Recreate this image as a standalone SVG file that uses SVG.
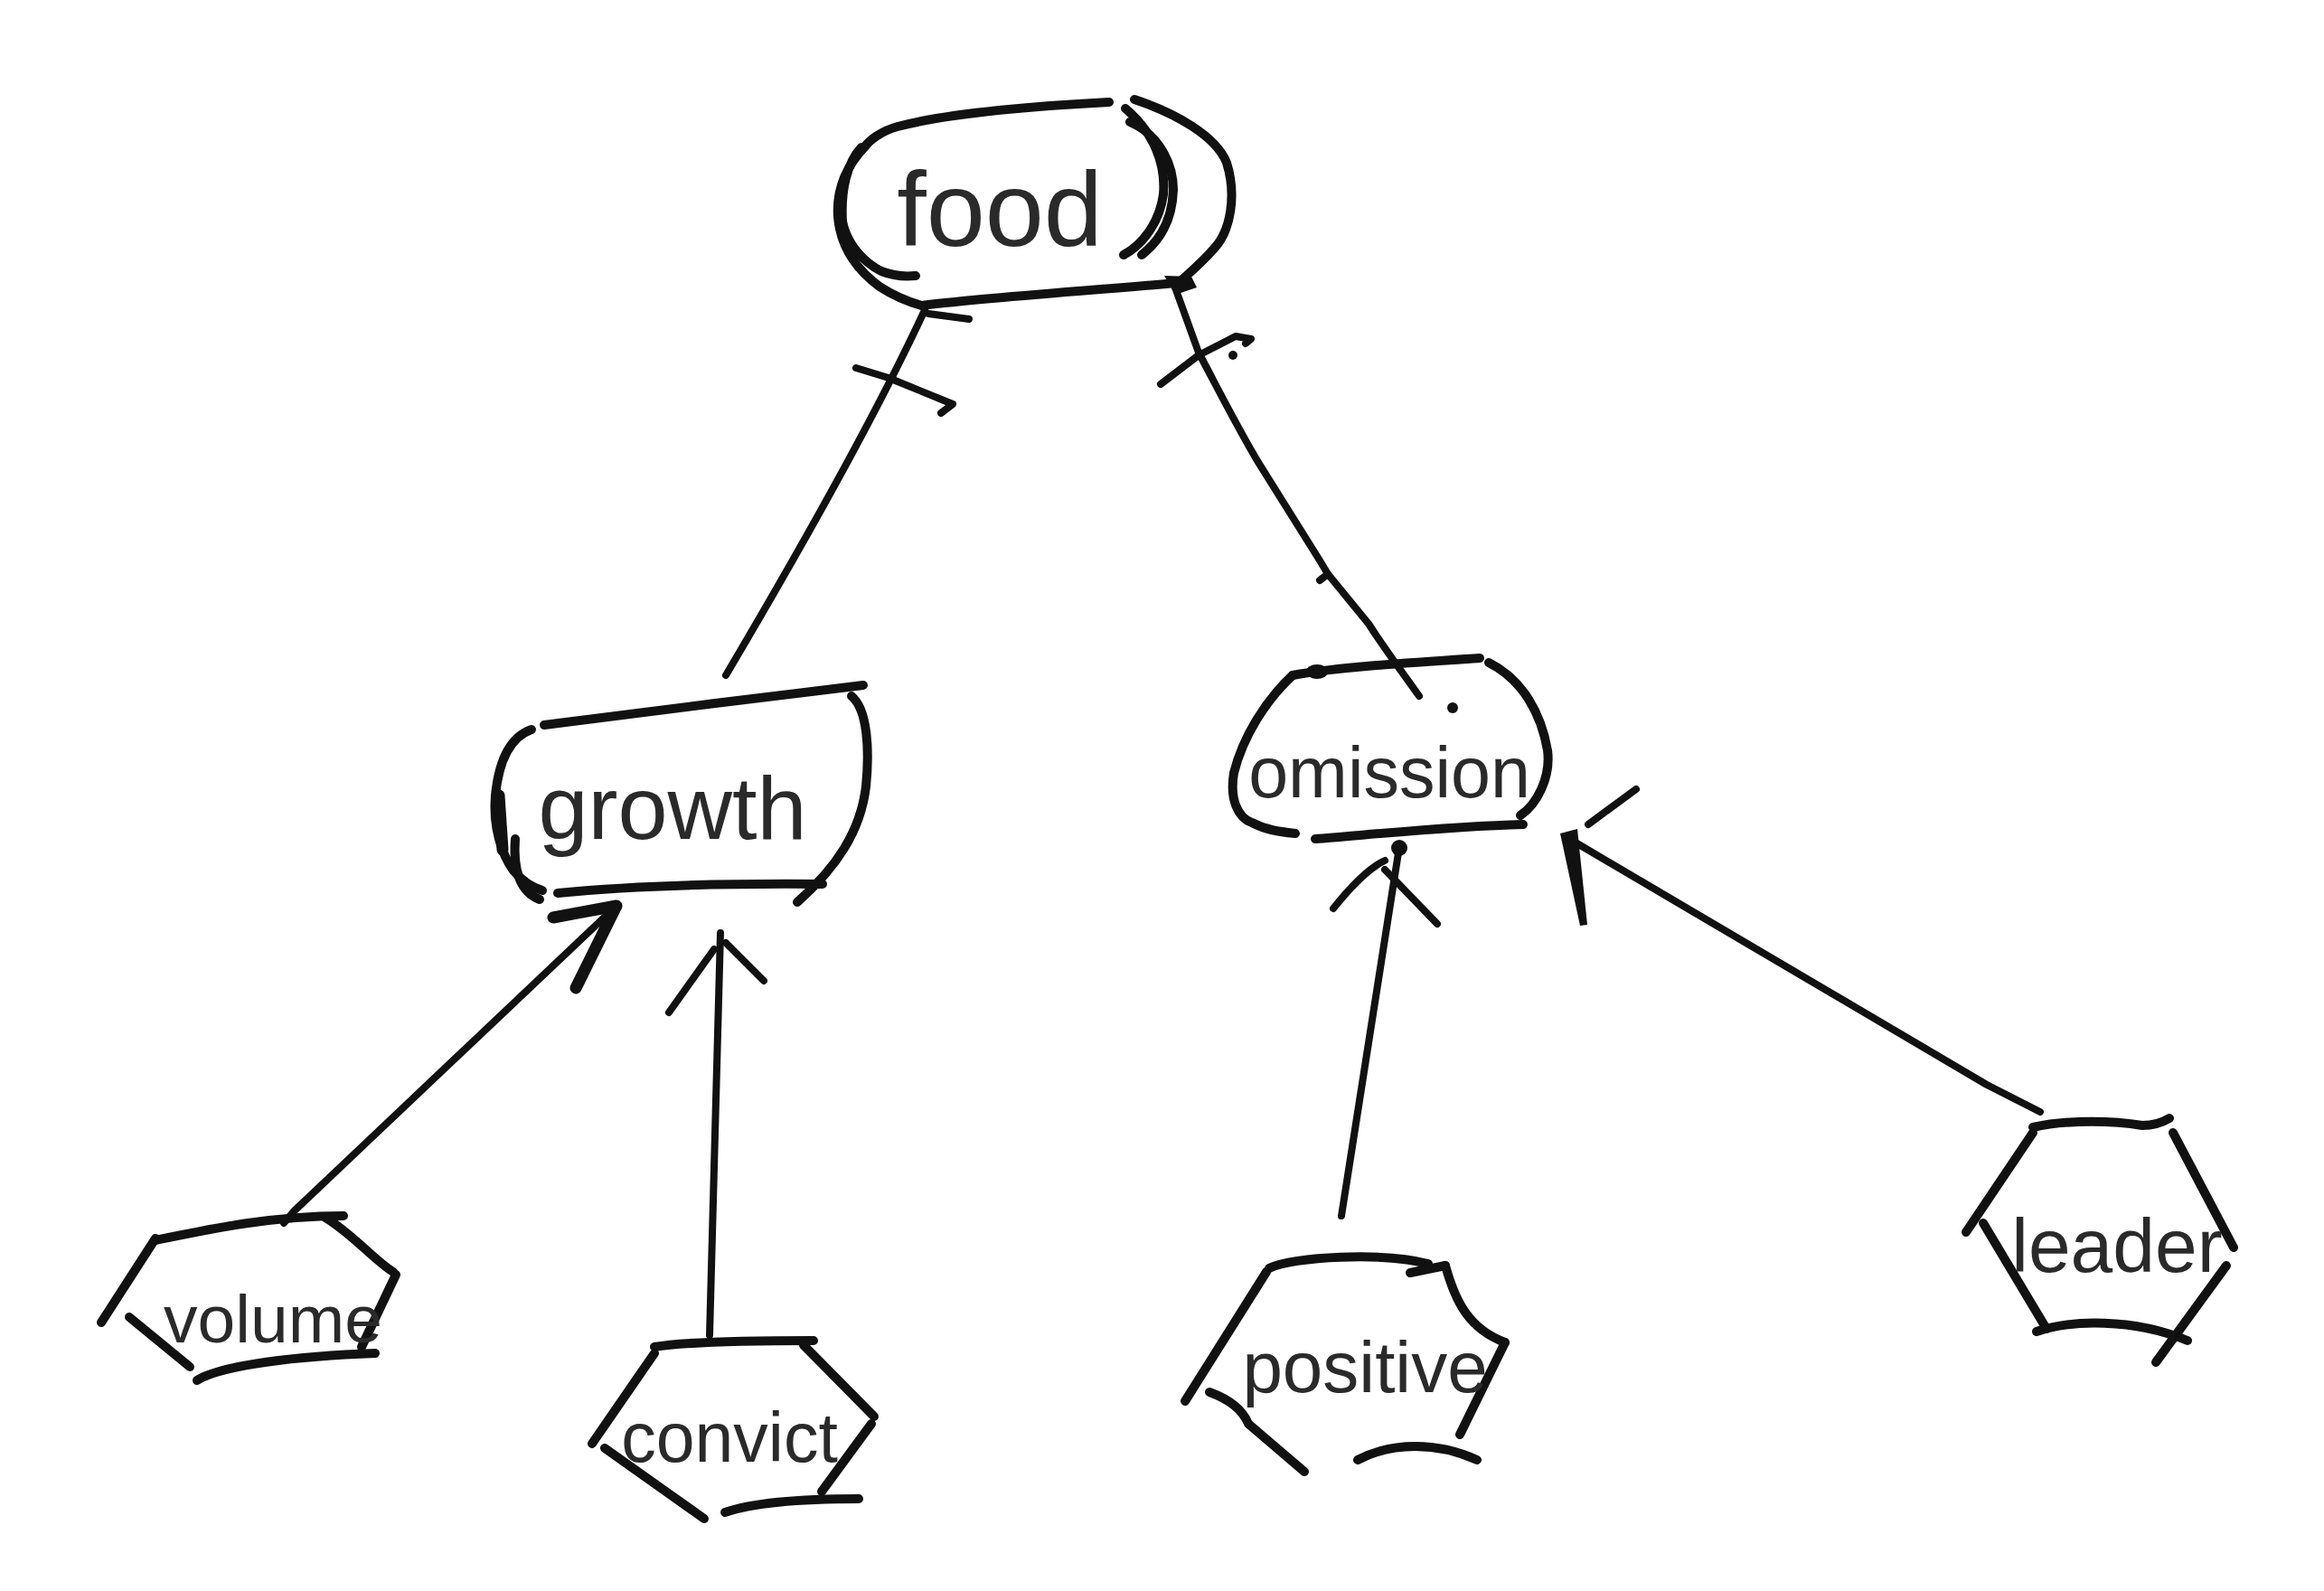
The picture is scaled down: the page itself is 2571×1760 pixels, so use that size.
<svg xmlns="http://www.w3.org/2000/svg" width="2571" height="1760" viewBox="0 0 2571 1760">
<style>
.s{fill:none;stroke:#111;stroke-width:10;stroke-linecap:round;stroke-linejoin:round}
.e{fill:none;stroke:#111;stroke-width:8;stroke-linecap:round;stroke-linejoin:round}
.k{fill:none;stroke:#111;stroke-width:13;stroke-linecap:round;stroke-linejoin:round}
.b{fill:#111}
.t{font-family:"Liberation Sans",Arial,sans-serif;fill:#2a2a2a;text-anchor:middle}
</style>
<rect width="2571" height="1760" fill="#fff"/>
<g id="connectors">
  <g id="food-growth">
    <path class="e" d="M1023,343 Q955,490 803,747"/>
    <path class="e" d="M947,407 L983,418 L1054,447 L1041,457"/>
    <path class="e" d="M1027,347 L1072,353"/>
  </g>
  <g id="food-omission">
    <path class="e" d="M1300,318 L1326,390 C1350,435 1370,475 1393,513 L1460,620 L1469,635 L1514,690 C1530,715 1545,735 1570,770"/>
    <path class="e" d="M1469,635 L1460,642"/>
    <path class="e" d="M1284,425 L1326,393 L1367,372 L1384,375 L1378,380"/>
    <circle class="b" cx="1364" cy="393" r="5"/>
  </g>
  <g id="volume-growth">
    <path class="e" d="M314,1353 L325,1340 L682,1002"/>
    <path class="k" d="M612,1015 L682,1002 L637,1093"/>
  </g>
  <g id="convict-growth">
    <path class="e" d="M785,1477 L797,1032"/>
    <path class="e" d="M740,1120 L790,1050"/>
    <path class="e" d="M803,1043 L845,1085"/>
  </g>
  <g id="positive-omission">
    <path class="e" d="M1484,1345 L1548,937"/>
    <path class="e" d="M1475,1005 C1495,980 1515,960 1532,952"/>
    <path class="e" d="M1532,962 L1590,1022"/>
    <circle class="b" cx="1548" cy="938" r="9"/>
  </g>
  <g id="leader-omission">
    <path class="e" d="M2257,1230 L2198,1200 L1743,932"/>
    <path class="b" d="M1726,922 L1745,917 L1756,1023 L1748,1024 Z"/>
    <path class="e" d="M1757,912 L1810,873"/>
  </g>
</g>
<g id="food">
  <path class="s" d="M1227,113 C1150,117 1050,125 993,140 C975,145 962,155 957,162 C935,185 925,210 927,240 C930,275 950,300 973,317 C990,328 1005,334 1020,338"/>
  <path class="s" d="M953,163 C937,180 930,210 932,245 C937,270 955,290 975,300 C990,306 1003,306 1013,305"/>
  <path class="s" d="M1020,338 C1080,330 1200,322 1313,312"/>
  <path class="s" d="M1255,110 C1300,125 1345,150 1357,180 C1368,215 1362,255 1343,275 C1330,290 1318,300 1307,310"/>
  <path class="s" d="M1245,120 C1275,145 1290,180 1287,215 C1283,245 1265,270 1243,282"/>
  <path class="s" d="M1250,135 C1285,150 1298,185 1298,210 C1297,240 1285,265 1263,282"/>
  <path class="b" d="M1288,305 L1318,306 L1324,318 L1300,326 Z"/>
  <text class="t" x="1106" y="272" font-size="117">food</text>
</g>
<g id="growth">
  <path class="s" d="M602,802 C700,790 850,770 955,758"/>
  <path class="s" d="M588,807 C565,815 552,840 548,880 C545,915 555,945 568,963 C578,975 590,982 600,985"/>
  <path class="k" d="M552,880 L556,940"/>
  <path class="s" d="M570,928 C568,955 572,985 597,995"/>
  <path class="s" d="M942,770 C960,785 962,830 958,870 C952,920 925,960 882,998"/>
  <path class="s" d="M617,988 C700,980 800,977 910,978"/>
  <text class="t" x="744" y="928" font-size="99">growth</text>
</g>
<g id="omission">
  <path class="s" d="M1430,747 C1480,738 1560,733 1637,728"/>
  <path class="s" d="M1647,733 C1685,752 1705,790 1712,830 C1716,860 1700,890 1682,902"/>
  <path class="s" d="M1430,747 C1400,775 1375,815 1365,855 C1360,885 1370,905 1385,910 C1400,918 1415,920 1433,922"/>
  <path class="s" d="M1455,928 C1500,925 1600,914 1685,912"/>
  <ellipse class="b" cx="1457" cy="743" rx="12" ry="8"/>
  <circle class="b" cx="1607" cy="783" r="6"/>
  <text class="t" x="1537" y="882" font-size="79">omission</text>
</g>
<g id="volume">
  <path class="s" d="M172,1372 C230,1360 300,1345 380,1345"/>
  <path class="s" d="M360,1347 C390,1365 415,1395 435,1407"/>
  <path class="s" d="M438,1410 L400,1490"/>
  <path class="s" d="M218,1527 C245,1510 330,1500 415,1497"/>
  <path class="s" d="M172,1370 L112,1463"/>
  <path class="s" d="M143,1457 L210,1512"/>
  <text class="t" x="302" y="1485" font-size="75">volume</text>
</g>
<g id="convict">
  <path class="s" d="M724,1490 C760,1484 830,1483 900,1483"/>
  <path class="s" d="M889,1488 L967,1567"/>
  <path class="s" d="M964,1575 L909,1650"/>
  <path class="s" d="M802,1673 C840,1660 900,1658 950,1658"/>
  <path class="s" d="M724,1497 L655,1597"/>
  <path class="s" d="M669,1602 L779,1680"/>
  <text class="t" x="807" y="1617" font-size="77">convict</text>
</g>
<g id="positive">
  <path class="s" d="M1404,1403 C1430,1390 1530,1385 1580,1398"/>
  <path class="s" d="M1560,1408 L1599,1400"/>
  <path class="s" d="M1401,1407 L1311,1550"/>
  <path class="s" d="M1599,1400 C1610,1440 1625,1470 1665,1485"/>
  <path class="s" d="M1665,1485 L1615,1587"/>
  <path class="s" d="M1338,1540 C1360,1548 1375,1560 1381,1575 L1443,1628"/>
  <path class="s" d="M1502,1615 C1540,1595 1590,1595 1634,1615"/>
  <text class="t" x="1510" y="1540" font-size="80">positive</text>
</g>
<g id="leader">
  <path class="s" d="M2249,1247 C2290,1238 2340,1240 2370,1245 C2385,1245 2395,1240 2400,1237"/>
  <path class="s" d="M2249,1253 L2175,1363"/>
  <path class="s" d="M2194,1353 L2264,1470"/>
  <path class="s" d="M2404,1253 L2471,1380"/>
  <path class="s" d="M2463,1400 L2385,1507"/>
  <path class="s" d="M2253,1473 C2290,1460 2360,1458 2420,1483"/>
  <text class="t" x="2342" y="1407" font-size="84">leader</text>
</g>
</svg>
